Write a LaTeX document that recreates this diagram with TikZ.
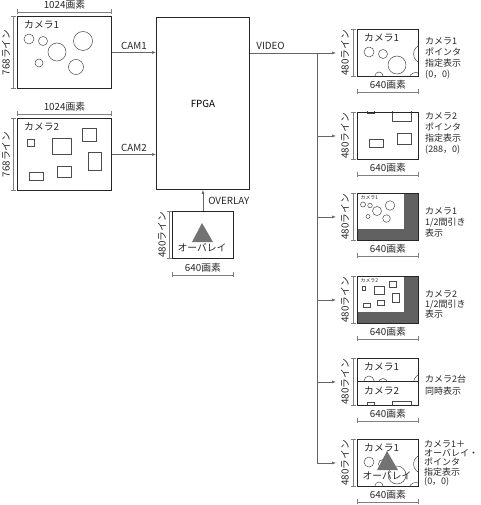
\documentclass[tikz,border=0pt]{standalone}
\usepackage{fontspec}
\setmainfont{Noto Sans CJK JP}
\usetikzlibrary{calc,arrows.meta,backgrounds}

\definecolor{linegray}{gray}{0.4}
\definecolor{dimgray}{gray}{0.5}
\definecolor{boxline}{gray}{0.15}
\definecolor{darkfill}{gray}{0.38}
\definecolor{trifill}{gray}{0.45}

\tikzset{
  framebox/.style={draw=boxline, line width=0.9pt, inner sep=0pt, anchor=north west,
    minimum width=61pt, minimum height=47pt, font=\fontsize{9.8}{11}\selectfont},
  conn/.style={linegray, line width=0.6pt},
  arr/.style={conn, -{Latex[length=4pt,width=3pt]}},
  dimline/.style={dimgray, line width=0.5pt, {Bar[width=5pt]}-{Bar[width=5pt]}},
  lbl/.style={font=\fontsize{9.8}{11}\selectfont, text=black!85, inner sep=0pt},
  note/.style={lbl, align=left, anchor=north west, font=\fontsize{9}{11}\selectfont},
  sketch/.style={draw=black!70, line width=0.5pt},
}

% camera 1 picture, 94 x 72
\newcommand{\camone}[1]{%
  \node[lbl, anchor=west] (#1t) at (7,9) {カメラ1};
  \foreach \cx/\cy/\rad in {12/23/5, 26/25/4.5, 40/36/9, 66/25/9.5, 22/47/4, 59/51/7.5}
    \draw[sketch] (\cx,\cy) circle (\rad);
}
% camera 2 picture, 94 x 72
\newcommand{\camtwo}[1]{%
  \node[lbl, anchor=west] (#1t) at (7,9) {カメラ2};
  \foreach \xa/\ya/\xb/\yb in {10/21/17/28, 35/20/54/36, 65/10/79/23, 71/34/84/52, 40/48/54/59, 12/54/26/62}
    \draw[sketch] (\xa,\ya) rectangle (\xb,\yb);
}
% overlay picture, 61 x 47
\newcommand{\ovl}[1]{%
  \fill[trifill] (30,12) -- (20,31) -- (41,31) -- cycle;
  \node[lbl] (#1t) at (30,37) {オーバレイ};
}
% contents of a box, behind its frame
\newcommand{\inside}[2]{%
  \begin{scope}[on background layer]
    \begin{scope}[shift={(#1.north west)}]
      #2
    \end{scope}
  \end{scope}
}

\begin{document}
\begin{tikzpicture}[x=1pt, y=-1pt]
  \useasboundingbox (0,0) rectangle (480,505);

  % Cameras
  \node[framebox, minimum width=94pt, minimum height=72pt] (cam1) at (17,16) {};
  \node[framebox, minimum width=94pt, minimum height=72pt] (cam2) at (17,118) {};
  \inside{cam1}{\camone{c1}}
  \inside{cam2}{\camtwo{c2}}
  \foreach \n in {cam1,cam2} {
    \draw[dimline] ([yshift=4pt]\n.north west) -- ([yshift=4pt]\n.north east)
      node[lbl, midway, above=2pt] (w\n) {1024画素};
    \draw[dimline] ([xshift=-4pt]\n.north west) -- ([xshift=-4pt]\n.south west);
    \node[lbl, rotate=90] (h\n) at ([xshift=-11pt]\n.west) {768ライン};
  }

  % FPGA and overlay
  \node[framebox, minimum width=93pt, minimum height=172pt] (fpga) at (156,17) {FPGA};
  \node[framebox] (ovlbox) at (172,211) {};
  \inside{ovlbox}{\ovl{ov}}
  \draw[dimline] ([xshift=-3pt]ovlbox.north west) -- ([xshift=-3pt]ovlbox.south west);
  \node[lbl, rotate=90] (hovl) at ([xshift=-10pt]ovlbox.west) {480ライン};
  \draw[dimline] ([yshift=-16pt]ovlbox.south west) -- ([yshift=-16pt]ovlbox.south east);
  \node[lbl] (wovl) at ([yshift=-8.5pt]ovlbox.south) {640画素};

  % Outputs
  \foreach \i/\y in {1/29,2/112,3/193,4/276,5/358,6/439} {
    \node[framebox] (out\i) at (357,\y) {};
    \draw[dimline] ([xshift=-4pt]out\i.north west) -- ([xshift=-4pt]out\i.south west);
    \node[lbl, rotate=90] (h\i) at ([xshift=-12pt]out\i.west) {480ライン};
    \draw[dimline] ([yshift=-15pt]out\i.south west) -- ([yshift=-15pt]out\i.south east);
    \node[lbl] (w\i) at ([yshift=-8pt]out\i.south) {640画素};
    \coordinate (tip\i) at ([xshift=-21pt]out\i.west);
    \coordinate (br\i) at ([xshift=-40pt]out\i.west);
  }

  % Output pictures
  \inside{out1}{
    \clip (0,0) rectangle (61,47);
    \camone{o1}}
  \inside{out2}{
    \clip (0,0) rectangle (61,47);
    \begin{scope}[shift={(0,-26.4)}]
      \camtwo{o2}
    \end{scope}}
  \inside{out3}{
    \fill[darkfill] (0,0) rectangle (61,47);
    \fill[white] (0,0) rectangle (47,36);
    \clip (0,0) rectangle (47,36);
    \begin{scope}[scale=0.5, transform shape]
      \camone{o3}
    \end{scope}}
  \inside{out4}{
    \fill[darkfill] (0,0) rectangle (61,47);
    \fill[white] (0,0) rectangle (47,36);
    \clip (0,0) rectangle (47,36);
    \begin{scope}[scale=0.5, transform shape]
      \camtwo{o4}
    \end{scope}}
  \inside{out5}{
    \begin{scope}
      \clip (0,0) rectangle (61,23.5);
      \camone{o5a}
    \end{scope}
    \begin{scope}[shift={(0,23.5)}]
      \clip (0,0) rectangle (61,23.5);
      \camtwo{o5b}
    \end{scope}
    \draw[boxline, line width=0.6pt] (0,23.5) -- (61,23.5);}
  \inside{out6}{
    \clip (0,0) rectangle (61,47);
    \camone{o6}
    \ovl{o6v}}

  % Signals
  \draw[arr] (cam1.east) -- (cam1.east -| fpga.west) node[lbl, midway, above=3pt] (cam1s) {CAM1};
  \draw[arr] (cam2.east) -- (cam2.east -| fpga.west) node[lbl, midway, above=3pt] (cam2s) {CAM2};
  \draw[arr] (ovlbox.north) -- (fpga.south) node[lbl, midway, right=5pt] (ovls) {OVERLAY};
  \draw[arr] (fpga.east |- tip1) -- (tip1) node[lbl, pos=0.24, above=3pt] (vids) {VIDEO};
  \draw[conn] (br1) -- (br6);
  \foreach \i in {2,...,6}
    \draw[arr] (br\i) -- (tip\i);

  % Display modes
  \node[note] (n1) at (425,37) {カメラ1\\ポインタ\\指定表示\\(0，0)};
  \node[note] (n2) at (425,112) {カメラ2\\ポインタ\\指定表示\\(288，0)};
  \node[note] (n3) at (425,207) {カメラ1\\1/2間引き\\表示};
  \node[note, font=\fontsize{9}{10}\selectfont] (n4) at (425,290) {カメラ2\\1/2間引き\\表示};
  \node[note, font=\fontsize{9}{11.5}\selectfont] (n5) at (425,375) {カメラ2台\\同時表示};
  \node[note, font=\fontsize{9}{9.3}\selectfont] (n6) at (424,440) {カメラ1＋\\オーバレイ・\\ポインタ\\指定表示\\(0，0)};
\end{tikzpicture}
\end{document}
